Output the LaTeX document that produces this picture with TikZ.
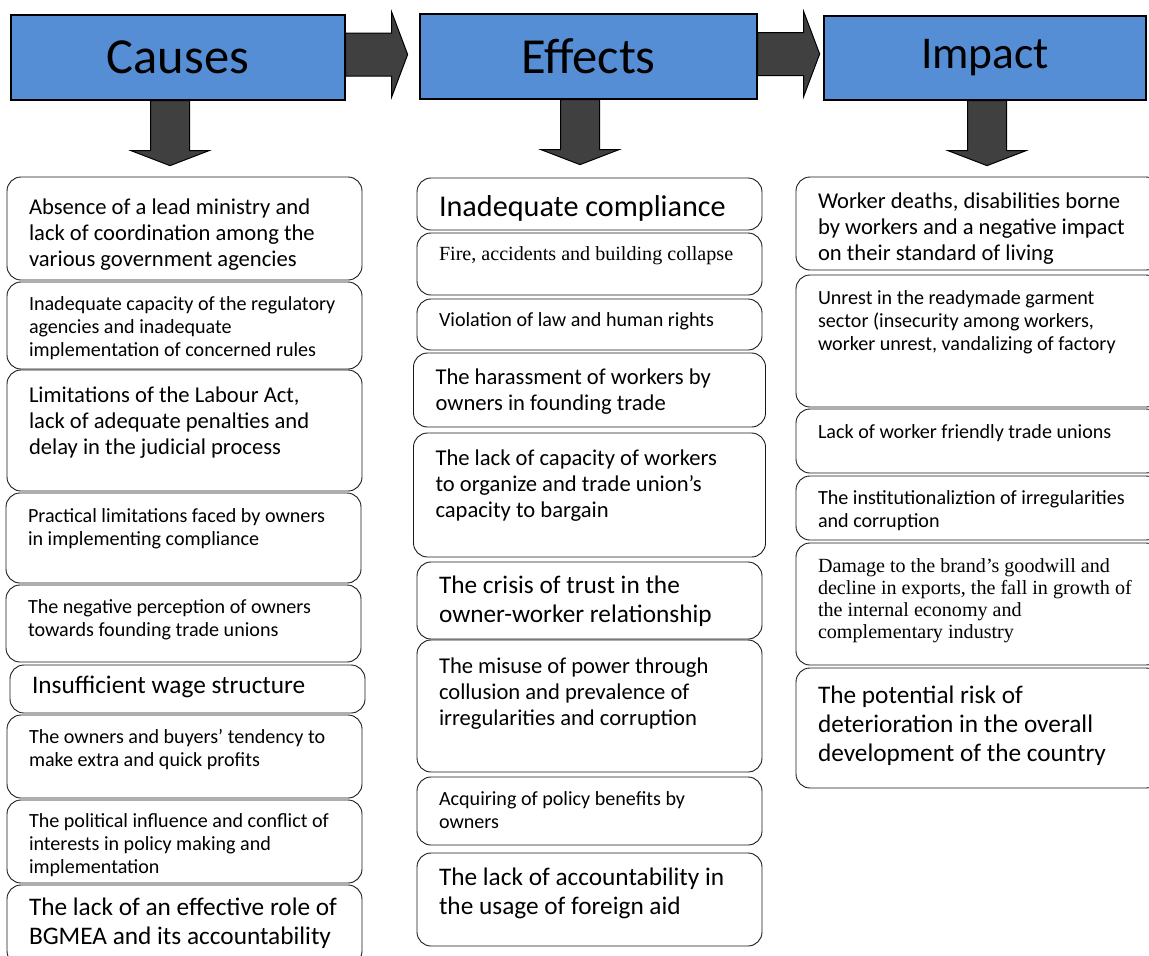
\documentclass[tikz,border=0pt]{standalone}
\usepackage{fontspec}
\setmainfont{Carlito}
\newfontfamily\timesfont{Liberation Serif}
\usetikzlibrary{positioning}

\definecolor{headblue}{RGB}{85,142,213}
\definecolor{arrowgray}{RGB}{64,64,64}

% text of a box: height, top space, lines
\newlength{\cellw}
\newcommand{\celltxt}[3]{\parbox[t][#1][t]{\cellw}{\raggedright\vspace*{#2}\strut #3}}

\begin{document}
\begin{tikzpicture}[
    x=1pt, y=-1pt,
    head node/.style={draw=black,line width=1.3pt,fill=headblue,inner sep=0pt,font=\fontsize{50.5}{56}\selectfont},
    cell/.style={draw=black!90,line width=0.9pt,rounded corners=14pt,anchor=north west,outer sep=0pt,
        inner xsep=22pt,inner ysep=0pt,execute at begin node={\setlength{\cellw}{#1}}},
    cause node/.style={cell=311pt},
    effect node/.style={cell=301pt},
    impact node/.style={cell=320pt},
    txt small/.style={font=\fontsize{20.1}{23}\selectfont},
    txt medium/.style={font=\fontsize{22.6}{26}\selectfont},
    txt large/.style={font=\fontsize{25.3}{29}\selectfont},
    txt huge/.style={font=\fontsize{30.2}{33}\selectfont},
    txt serif/.style={font=\timesfont\fontsize{20.1}{22}\selectfont},
    big arrow/.style={draw=black,line width=1pt,fill=arrowgray,line join=miter}
]
\useasboundingbox (0,0) rectangle (1149,956);
\clip (0,0) rectangle (1149,956);

% Headers
\node[head node, minimum width=334pt, minimum height=85pt] (causes) at (178,57.5) {Causes};
\node[head node, minimum width=337pt, minimum height=85pt] (effects) at (588.5,56.5) {Effects};
\node[head node, minimum width=322pt, minimum height=84pt, font=\fontsize{45.5}{52}\selectfont] (impact) at (985,58) {Impact};

% Arrows between headers
\draw[big arrow] ([yshift=3pt]causes.east) ++(0,-21.5) -- ++(46,0) -- ++(0,-21) -- ++(16,42.5)
    -- ++(-16,42.5) -- ++(0,-21) -- ++(-46,0) -- cycle;
\draw[big arrow] ([yshift=2.5pt]effects.east) ++(0,-21.5) -- ++(46,0) -- ++(0,-21) -- ++(16,42.5)
    -- ++(-16,42.5) -- ++(0,-21) -- ++(-46,0) -- cycle;

% Arrows down to the columns
\draw[big arrow] ([xshift=-8pt]causes.south) ++(-19.5,0) -- ++(0,50) -- ++(-19.5,0) -- ++(39,15)
    -- ++(39,-15) -- ++(-19.5,0) -- ++(0,-50) -- cycle;
\draw[big arrow] ([xshift=-8.5pt]effects.south) ++(-19.5,0) -- ++(0,50) -- ++(-19.5,0) -- ++(39,15)
    -- ++(39,-15) -- ++(-19.5,0) -- ++(0,-50) -- cycle;
\draw[big arrow] ([xshift=2pt]impact.south) ++(-19.5,0) -- ++(0,50) -- ++(-19.5,0) -- ++(39,15)
    -- ++(39,-15) -- ++(-19.5,0) -- ++(0,-50) -- cycle;

% Causes
\node[cause node, txt medium] (cause1) at (7,177) {\celltxt{103pt}{19pt}{Absence of a lead ministry and\\lack of coordination among the\\various government agencies}};
\node[cause node, txt small, below=2pt of cause1] (cause2) {\celltxt{87pt}{11.9pt}{Inadequate capacity of the regulatory\\agencies and inadequate\\implementation of concerned rules}};
\node[cause node, txt medium, below=1pt of cause2] (cause3) {\celltxt{121pt}{14.5pt}{Limitations of the Labour Act,\\lack of adequate penalties and\\delay in the judicial process}};
\node[cause node, txt small, below=2pt of cause3, xshift=-1pt] (cause4) {\celltxt{90pt}{13.5pt}{Practical limitations faced by owners\\in implementing compliance}};
\node[cause node, txt small, below=2pt of cause4] (cause5) {\celltxt{77pt}{12.5pt}{The negative perception of owners\\towards founding trade unions}};
\node[cause node, txt large, below=3pt of cause5, xshift=4pt] (cause6) {\celltxt{48pt}{8.5pt}{Insufficient wage structure}};
\node[cause node, txt small, below=2pt of cause6, xshift=-3pt] (cause7) {\celltxt{83pt}{12.5pt}{The owners and buyers’ tendency to\\make extra and quick profits}};
\node[cause node, txt small, below=2pt of cause7] (cause8) {\celltxt{83pt}{11.5pt}{The political influence and conflict of\\interests in policy making and\\implementation}};
\node[cause node, txt large, below=2pt of cause8] (cause9) {\celltxt{80pt}{10.5pt}{The lack of an effective role of\\BGMEA and its accountability}};

% Effects
\node[effect node, txt huge] (effect1) at (417,178) {\celltxt{52pt}{15pt}{Inadequate compliance}};
\node[effect node, txt serif, below=3pt of effect1] (effect2) {\celltxt{62pt}{12.5pt}{Fire, accidents and building collapse}};
\node[effect node, txt small, below=4pt of effect2] (effect3) {\celltxt{51pt}{10.9pt}{Violation of law and human rights}};
\node[cell=308pt, txt medium, below=3pt of effect3] (effect4) {\celltxt{74pt}{12.8pt}{The harassment of workers by\\owners in founding trade}};
\node[cell=308pt, txt medium, below=6pt of effect4] (effect5) {\celltxt{124pt}{14.5pt}{The lack of capacity of workers\\to organize and trade union’s\\capacity to bargain}};
\node[effect node, txt large, below=5pt of effect5] (effect6) {\celltxt{77pt}{11.5pt}{The crisis of trust in the\\owner-worker relationship}};
\node[effect node, txt medium, below=1pt of effect6] (effect7) {\celltxt{132pt}{15.5pt}{The misuse of power through\\collusion and prevalence of\\irregularities and corruption}};
\node[effect node, txt small, below=5pt of effect7] (effect8) {\celltxt{68pt}{12.5pt}{Acquiring of policy benefits by\\owners}};
\node[effect node, txt large, below=8pt of effect8] (effect9) {\celltxt{93pt}{12.5pt}{The lack of accountability in\\the usage of foreign aid}};

% Impact
\node[impact node, txt medium] (impact1) at (796,177) {\celltxt{93pt}{13.5pt}{Worker deaths, disabilities borne\\by workers and a negative impact\\on their standard of living}};
\node[impact node, txt small, below=5pt of impact1] (impact2) {\celltxt{132pt}{13.5pt}{Unrest in the readymade garment\\sector (insecurity among workers,\\worker unrest, vandalizing of factory}};
\node[impact node, txt small, below=2pt of impact2] (impact3) {\celltxt{64pt}{13.5pt}{Lack of worker friendly trade unions}};
\node[impact node, txt small, below=3pt of impact3] (impact4) {\celltxt{64pt}{12.5pt}{The institutionaliztion of irregularities\\and corruption}};
\node[impact node, txt serif, below=3pt of impact4] (impact5) {\celltxt{122pt}{13.6pt}{Damage to the brand’s goodwill and\\decline in exports, the fall in growth of\\the internal economy and\\complementary industry}};
\node[impact node, txt large, below=3pt of impact5] (impact6) {\celltxt{120pt}{15.5pt}{The potential risk of\\deterioration in the overall\\development of the country}};

\end{tikzpicture}
\end{document}
